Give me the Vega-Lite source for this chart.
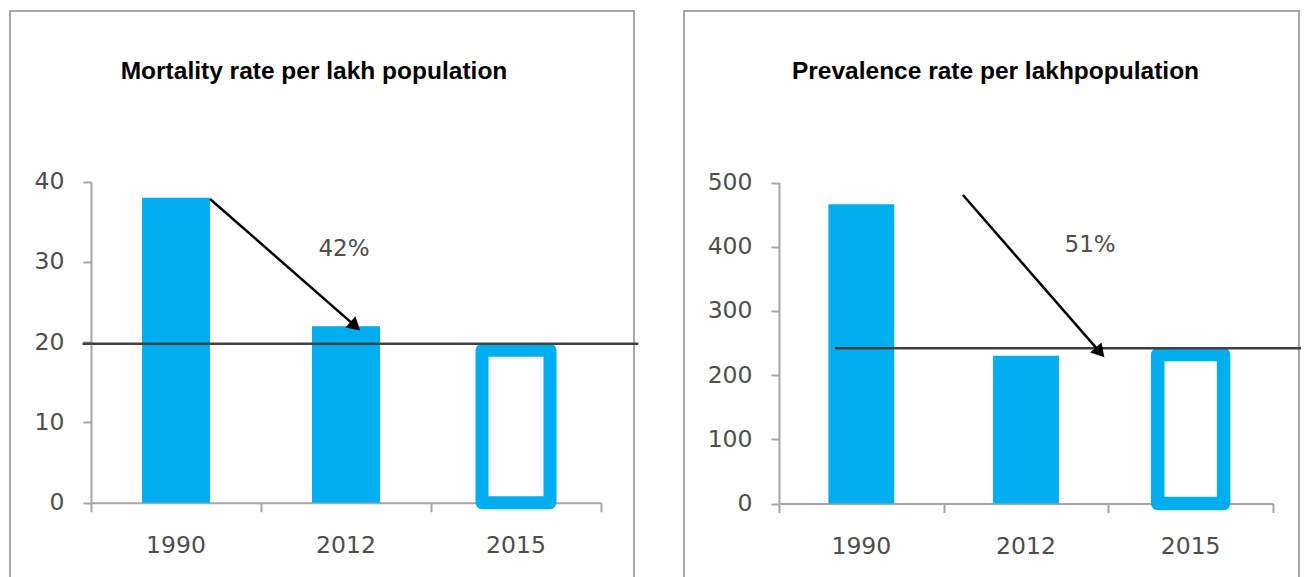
{
  "$schema": "https://vega.github.io/schema/vega-lite/v6.json",
  "padding": {"left": 9, "top": 10, "right": 0, "bottom": 0},
  "bounds": "flush",
  "spacing": 50,
  "background": "white",
  "config": {
    "view": {"stroke": "#a6a6a6", "strokeWidth": 2},
    "axis": {"grid": false, "title": null, "labelFont": "DejaVu Sans", "labelFontSize": 23.5, "labelColor": "#4d4d4d", "domainColor": "#a6a6a6", "domainWidth": 2, "tickColor": "#a6a6a6", "tickWidth": 2},
    "title": {"font": "Liberation Sans", "fontSize": 24.5, "fontWeight": "bold", "color": "#000000", "anchor": "middle", "frame": "group"}
  },
  "datasets": {
    "mBars": [{"year": "1990", "value": 38}, {"year": "2012", "value": 22}],
    "mTarget": [{"year": "2015", "value": 19}],
    "mLine": [{"u": -0.05, "u2": 3.22, "value": 19.8}],
    "mArrow": [{"u": 0.70, "value": 37.85, "u2": 1.555, "value2": 22.0}],
    "mHead": [{"u": 1.555, "value": 22.0}],
    "mLabel": [{"u": 1.488, "value": 31.6, "text": "42%"}],
    "mTicks": [{"u": 0, "value": 0}],
    "pBars": [{"year": "1990", "value": 466}, {"year": "2012", "value": 230}],
    "pTarget": [{"year": "2015", "value": 232}],
    "pLine": [{"u": 0.34, "u2": 3.17, "value": 242}],
    "pArrow": [{"u": 1.117, "value": 480.5, "u2": 1.95, "value2": 235.4}],
    "pHead": [{"u": 1.95, "value": 235.4}],
    "pLabel": [{"u": 1.889, "value": 402.6, "text": "51%"}]
  },
  "hconcat": [
    {
      "width": 624,
      "height": 580,
      "title": {"text": "Mortality rate per lakh population", "offset": -85, "baseline": "middle", "dx": -8},
      "layer": [
        {
          "layer": [
            {
              "data": {"name": "mBars"},
              "mark": {"type": "bar", "color": "#00AEEF", "width": {"band": 0.4}},
              "encoding": {
                "x": {"field": "year", "type": "nominal", "scale": {"type": "band", "domain": ["1990", "2012", "2015"], "range": [81, 591], "paddingInner": 0, "paddingOuter": 0},
                      "axis": {"ticks": false, "labelAngle": 0, "labelPadding": 31, "offset": -88.3}},
                "y": {"field": "value", "type": "quantitative", "scale": {"domain": [0, 40], "range": [491.7, 170.7], "nice": false, "zero": true},
                      "axis": {"values": [0, 10, 20, 30, 40], "offset": -81, "tickSize": 8, "labelPadding": 19}}
              }
            },
            {
              "data": {"name": "mTarget"},
              "mark": {"type": "bar", "fill": "white", "stroke": "#00AEEF", "strokeWidth": 13, "strokeJoin": "round", "width": {"band": 0.4}},
              "encoding": {
                "x": {"field": "year", "type": "nominal"},
                "y": {"field": "value", "type": "quantitative"}
              }
            }
          ]
        },
        {
          "layer": [
            {
              "data": {"name": "mTicks"},
              "mark": {"type": "point", "opacity": 0},
              "encoding": {
                "x": {"field": "u", "type": "quantitative", "scale": {"domain": [0, 3], "range": [81, 591], "nice": false, "zero": false},
                      "axis": {"orient": "bottom", "values": [0, 1, 2, 3], "labels": false, "domain": false, "ticks": true, "tickSize": 9, "offset": -88.3}},
                "y": {"field": "value", "type": "quantitative"}
              }
            },
            {
              "data": {"name": "mLine"},
              "mark": {"type": "rule", "color": "#404040", "strokeWidth": 2.5},
              "encoding": {
                "x": {"field": "u", "type": "quantitative"},
                "x2": {"field": "u2"},
                "y": {"field": "value", "type": "quantitative"}
              }
            },
            {
              "data": {"name": "mArrow"},
              "mark": {"type": "rule", "color": "#000000", "strokeWidth": 2.5},
              "encoding": {
                "x": {"field": "u", "type": "quantitative"},
                "x2": {"field": "u2"},
                "y": {"field": "value", "type": "quantitative"},
                "y2": {"field": "value2"}
              }
            },
            {
              "data": {"name": "mHead"},
              "mark": {"type": "point", "shape": "triangle-right", "filled": true, "color": "#000000", "opacity": 1, "size": 225, "angle": 41},
              "encoding": {
                "x": {"field": "u", "type": "quantitative"},
                "y": {"field": "value", "type": "quantitative"}
              }
            },
            {
              "data": {"name": "mLabel"},
              "mark": {"type": "text", "font": "DejaVu Sans", "fontSize": 23, "color": "#4d4d4d"},
              "encoding": {
                "x": {"field": "u", "type": "quantitative"},
                "y": {"field": "value", "type": "quantitative"},
                "text": {"field": "text"}
              }
            }
          ]
        }
      ],
      "resolve": {"scale": {"x": "independent"}, "axis": {"x": "independent"}}
    },
    {
      "width": 615,
      "height": 580,
      "title": {"text": "Prevalence rate per lakhpopulation", "offset": -85, "baseline": "middle", "dx": 4},
      "layer": [
        {
          "layer": [
            {
              "data": {"name": "pBars"},
              "mark": {"type": "bar", "color": "#00AEEF", "width": {"band": 0.4}},
              "encoding": {
                "x": {"field": "year", "type": "nominal", "scale": {"type": "band", "domain": ["1990", "2012", "2015"], "range": [95, 589], "paddingInner": 0, "paddingOuter": 0},
                      "axis": {"ticks": false, "labelAngle": 0, "labelPadding": 31, "offset": -87.5}},
                "y": {"field": "value", "type": "quantitative", "scale": {"domain": [0, 500], "range": [492.5, 171.5], "nice": false, "zero": true},
                      "axis": {"values": [0, 100, 200, 300, 400, 500], "offset": -95, "tickSize": 8, "labelPadding": 19}}
              }
            },
            {
              "data": {"name": "pTarget"},
              "mark": {"type": "bar", "fill": "white", "stroke": "#00AEEF", "strokeWidth": 13.5, "strokeJoin": "round", "width": {"band": 0.4}},
              "encoding": {
                "x": {"field": "year", "type": "nominal"},
                "y": {"field": "value", "type": "quantitative"}
              }
            }
          ]
        },
        {
          "layer": [
            {
              "data": {"name": "mTicks"},
              "mark": {"type": "point", "opacity": 0},
              "encoding": {
                "x": {"field": "u", "type": "quantitative", "scale": {"domain": [0, 3], "range": [95, 589], "nice": false, "zero": false},
                      "axis": {"orient": "bottom", "values": [0, 1, 2, 3], "labels": false, "domain": false, "ticks": true, "tickSize": 9, "offset": -87.5}},
                "y": {"field": "value", "type": "quantitative"}
              }
            },
            {
              "data": {"name": "pLine"},
              "mark": {"type": "rule", "color": "#404040", "strokeWidth": 2.5},
              "encoding": {
                "x": {"field": "u", "type": "quantitative"},
                "x2": {"field": "u2"},
                "y": {"field": "value", "type": "quantitative"}
              }
            },
            {
              "data": {"name": "pArrow"},
              "mark": {"type": "rule", "color": "#000000", "strokeWidth": 2.5},
              "encoding": {
                "x": {"field": "u", "type": "quantitative"},
                "x2": {"field": "u2"},
                "y": {"field": "value", "type": "quantitative"},
                "y2": {"field": "value2"}
              }
            },
            {
              "data": {"name": "pHead"},
              "mark": {"type": "point", "shape": "triangle-right", "filled": true, "color": "#000000", "opacity": 1, "size": 225, "angle": 48.9},
              "encoding": {
                "x": {"field": "u", "type": "quantitative"},
                "y": {"field": "value", "type": "quantitative"}
              }
            },
            {
              "data": {"name": "pLabel"},
              "mark": {"type": "text", "font": "DejaVu Sans", "fontSize": 23, "color": "#4d4d4d"},
              "encoding": {
                "x": {"field": "u", "type": "quantitative"},
                "y": {"field": "value", "type": "quantitative"},
                "text": {"field": "text"}
              }
            }
          ]
        }
      ],
      "resolve": {"scale": {"x": "independent"}, "axis": {"x": "independent"}}
    }
  ]
}
